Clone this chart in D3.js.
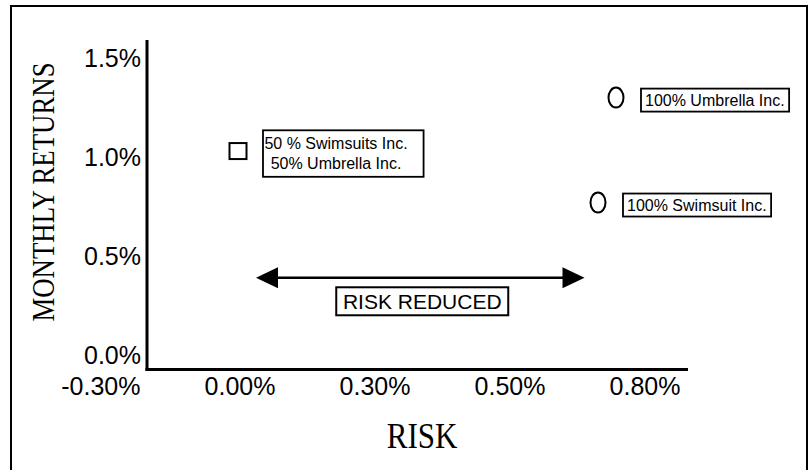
<!DOCTYPE html>
<html>
<head>
<meta charset="utf-8">
<script src="https://cdn.jsdelivr.net/npm/d3@7/dist/d3.min.js"></script>
<style>
  html, body { margin: 0; padding: 0; background: #fff; }
  svg { display: block; }
</style>
</head>
<body>
<svg id="chart" width="809" height="470"></svg>
<script>
// ---- data ----
const xTickValues = [-0.3, 0.0, 0.3, 0.5, 0.8];
const xTickLabels = ["-0.30%", "0.00%", "0.30%", "0.50%", "0.80%"];
const yTickValues = [0.0, 0.5, 1.0, 1.5];
const yTickLabels = ["0.0%", "0.5%", "1.0%", "1.5%"];

const portfolioNames = [
  ["50 % Swimsuits Inc.", "50% Umbrella Inc."],
  ["100% Umbrella Inc."],
  ["100% Swimsuit Inc."]
];
const portfolioRisk = [0.00, 0.74, 0.70];
const portfolioReturn = [1.03, 1.30, 0.77];
const portfolioShape = ["square", "circle", "circle"];

const arrowRisk = [0.04, 0.67];
const arrowReturn = 0.39;
const arrowLabel = "RISK REDUCED";

const xTitle = "RISK";
const yTitle = "MONTHLY RETURNS";

// ---- layout ----
const svg = d3.select("#chart");
const sans = "'Liberation Sans', Arial, Helvetica, sans-serif";
const serif = "'Liberation Serif', 'Times New Roman', Times, serif";

// outer frame
svg.append("rect")
  .attr("x", 11).attr("y", 6).attr("width", 796).attr("height", 480)
  .attr("fill", "none").attr("stroke", "#000").attr("stroke-width", 2);

// scales (tick labels are evenly spaced -> piecewise linear scale)
const x = d3.scaleLinear()
  .domain(xTickValues)
  .range(xTickValues.map((d, i) => 103 + i * 135));
const y = d3.scaleLinear().domain([0, 1.5]).range([355, 58]);

const plotLeft = 147, plotRight = 688, plotTop = 40, plotBottom = 369.5;

// y axis labels
const yAxis = svg.append("g")
  .attr("transform", "translate(141,0)")
  .call(d3.axisLeft(y).tickValues(yTickValues)
    .tickFormat((d, i) => yTickLabels[i]).tickSize(0).tickPadding(0));
yAxis.select(".domain").remove();
yAxis.selectAll("text")
  .attr("font-family", sans).attr("font-size", 25).attr("fill", "#000");
yAxis.attr("font-family", null).attr("font-size", null);

// x axis labels
const xAxis = svg.append("g")
  .attr("transform", `translate(37,${plotBottom})`)
  .call(d3.axisBottom(x).tickValues(xTickValues)
    .tickFormat((d, i) => xTickLabels[i]).tickSize(0).tickPadding(8));
xAxis.select(".domain").remove();
xAxis.selectAll("text")
  .attr("font-family", sans).attr("font-size", 25).attr("fill", "#000")
  .attr("text-anchor", "end");
xAxis.attr("font-family", null).attr("font-size", null);

// axis lines
svg.append("line")
  .attr("x1", plotLeft).attr("x2", plotLeft)
  .attr("y1", plotTop).attr("y2", plotBottom + 1.5)
  .attr("stroke", "#000").attr("stroke-width", 3);
svg.append("line")
  .attr("x1", plotLeft - 1.5).attr("x2", plotRight)
  .attr("y1", plotBottom).attr("y2", plotBottom)
  .attr("stroke", "#000").attr("stroke-width", 3);

// axis titles (condensed serif)
svg.append("text")
  .attr("transform", "translate(54,192) rotate(-90) scale(0.865,1)")
  .attr("text-anchor", "middle")
  .attr("font-family", serif).attr("font-size", 31).attr("fill", "#000")
  .text(yTitle);
svg.append("text")
  .attr("transform", "translate(422,448) scale(0.885,1)")
  .attr("text-anchor", "middle")
  .attr("font-family", serif).attr("font-size", 35).attr("fill", "#000")
  .text(xTitle);

// points + labels
const pts = portfolioRisk.map((r, i) => ({
  risk: r, ret: portfolioReturn[i], shape: portfolioShape[i], name: portfolioNames[i]
}));

pts.forEach(p => {
  const cx = x(p.risk), cy = y(p.ret);
  if (p.shape === "square") {
    svg.append("rect")
      .attr("x", cx - 8.5).attr("y", cy - 8).attr("width", 17).attr("height", 16)
      .attr("fill", "#fff").attr("stroke", "#000").attr("stroke-width", 2);
  } else {
    svg.append("ellipse")
      .attr("cx", cx).attr("cy", cy).attr("rx", 7.5).attr("ry", 10)
      .attr("fill", "#fff").attr("stroke", "#000").attr("stroke-width", 2);
  }
  const g = svg.append("g");
  const multi = p.name.length > 1;
  const boxX = cx + 25;
  const lineH = 19.5;
  const txt = g.append("text")
    .attr("font-family", sans).attr("font-size", 16).attr("fill", "#000")
    .attr("text-anchor", multi ? "middle" : "start");
  p.name.forEach((line, j) => {
    txt.append("tspan")
      .attr("x", multi ? boxX + 73 : boxX + 4)
      .attr("y", cy + 2 + (j - (p.name.length - 1) / 2) * lineH + 6)
      .text(line);
  });
  const bb = txt.node().getBBox();
  const padR = multi ? 16 : 4.5;
  const padY = multi ? 5 : 3;
  g.insert("rect", "text")
    .attr("x", boxX)
    .attr("y", bb.y - padY)
    .attr("width", (bb.x - boxX) + bb.width + padR)
    .attr("height", bb.height + padY * 2)
    .attr("fill", "#fff").attr("stroke", "#000").attr("stroke-width", 1.8);
});

// arrow
const ax1 = x(arrowRisk[0]), ax2 = x(arrowRisk[1]), ay = y(arrowReturn);
const head = 22, hh = 10.5;
svg.append("line")
  .attr("x1", ax1 + head - 2).attr("x2", ax2 - head + 2)
  .attr("y1", ay).attr("y2", ay)
  .attr("stroke", "#000").attr("stroke-width", 2.5);
svg.append("path")
  .attr("d", `M${ax1},${ay} L${ax1 + head},${ay - hh} L${ax1 + head},${ay + hh} Z`)
  .attr("fill", "#000");
svg.append("path")
  .attr("d", `M${ax2},${ay} L${ax2 - head},${ay - hh} L${ax2 - head},${ay + hh} Z`)
  .attr("fill", "#000");

// arrow label
const mid = (ax1 + ax2) / 2 + 2;
svg.append("rect")
  .attr("x", mid - 86).attr("y", ay + 9.5).attr("width", 172).attr("height", 28)
  .attr("fill", "#fff").attr("stroke", "#000").attr("stroke-width", 2);
svg.append("text")
  .attr("x", mid).attr("y", ay + 9.5 + 21.5)
  .attr("text-anchor", "middle")
  .attr("font-family", sans).attr("font-size", 21).attr("fill", "#000")
  .text(arrowLabel);
</script>
</body>
</html>
